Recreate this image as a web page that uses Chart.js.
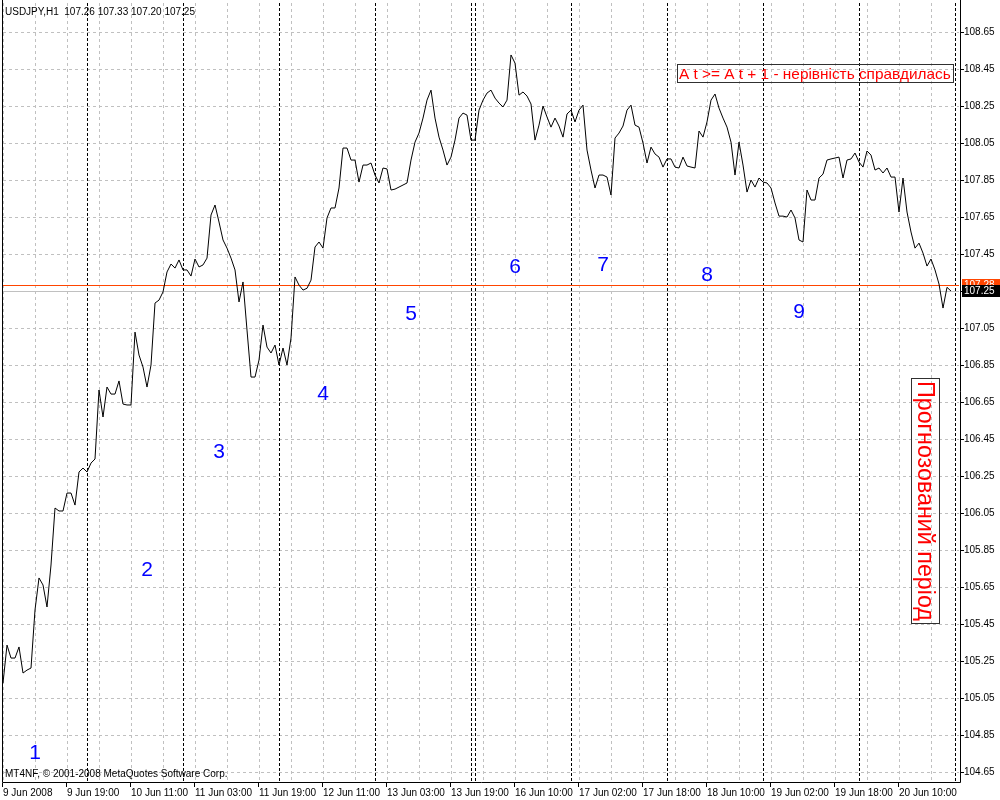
<!DOCTYPE html>
<html><head><meta charset="utf-8">
<script src="https://cdn.jsdelivr.net/npm/chart.js@4.4.1/dist/chart.umd.min.js"></script>
<style>html,body{margin:0;padding:0;background:#fff}canvas{display:block}</style>
</head><body>
<canvas id="c" width="1000" height="800"></canvas>
<script>
// ---------- data ----------
const symbolTitle = 'USDJPY,H1  107.26 107.33 107.20 107.25';
const copyright = 'MT4NF, \u00A9 2001-2008 MetaQuotes Software Corp.';

// hourly closes, one per bar (bar 0 = 9 Jun 2008 03:00)
const closes = [
105.131,105.336,105.266,105.266,105.326,105.185,105.201,105.212,105.526,105.699,
105.661,105.542,105.769,106.077,106.061,106.061,106.158,106.158,106.093,106.272,
106.293,106.272,106.320,106.342,106.715,106.569,106.731,106.693,106.693,106.764,
106.639,106.634,106.634,107.028,106.904,106.839,106.731,106.850,107.185,107.201,
107.245,107.353,107.396,107.374,107.418,107.364,107.364,107.331,107.423,107.380,
107.391,107.428,107.661,107.715,107.623,107.526,107.482,107.428,107.364,107.191,
107.299,107.039,106.785,106.785,106.877,107.066,106.947,106.915,106.958,106.850,
106.942,106.850,106.996,107.326,107.282,107.255,107.265,107.309,107.488,107.515,
107.482,107.645,107.699,107.699,107.807,108.023,108.023,107.958,107.958,107.839,
107.931,107.931,107.942,107.877,107.834,107.915,107.910,107.796,107.801,107.812,
107.823,107.834,107.958,108.055,108.104,108.185,108.282,108.336,108.185,108.082,
108.012,107.931,107.974,108.066,108.185,108.212,108.201,108.066,108.066,108.228,
108.282,108.320,108.336,108.293,108.266,108.245,108.282,108.526,108.482,108.309,
108.326,108.304,108.261,108.066,108.147,108.250,108.191,108.136,108.185,108.142,
108.082,108.207,108.228,108.164,108.228,108.255,108.012,107.904,107.807,107.877,
107.877,107.866,107.769,108.077,108.104,108.142,108.228,108.255,108.147,108.136,
108.050,107.942,108.028,107.991,107.974,107.920,107.964,107.964,107.920,107.915,
107.974,107.926,107.920,107.915,108.115,108.082,108.164,108.282,108.315,108.239,
108.185,108.136,108.055,107.877,108.055,107.931,107.785,107.850,107.812,107.861,
107.839,107.834,107.807,107.726,107.655,107.655,107.650,107.688,107.645,107.526,
107.515,107.796,107.742,107.742,107.861,107.882,107.958,107.964,107.969,107.974,
107.861,107.958,107.964,107.996,107.947,107.920,108.007,107.985,107.904,107.915,
107.888,107.915,107.866,107.866,107.677,107.861,107.677,107.569,107.482,107.509,
107.455,107.385,107.423,107.364,107.288,107.158,107.270,107.250
];

const xTickLabels = ['9 Jun 2008','9 Jun 19:00','10 Jun 11:00','11 Jun 03:00','11 Jun 19:00',
  '12 Jun 11:00','13 Jun 03:00','13 Jun 19:00','16 Jun 10:00','17 Jun 02:00','17 Jun 18:00',
  '18 Jun 10:00','19 Jun 02:00','19 Jun 18:00','20 Jun 10:00'];
const xLabelBars = [0,16,32,48,64,80,96,112,128,144,160,176,192,208,224];
const gridBars = [0,8,16,24,32,40,48,56,64,72,80,88,96,104,112,120,128,136,144,152,160,168,176,184,192,200,208,216,224,232];
const yTicks = [104.65,104.85,105.05,105.25,105.45,105.65,105.85,106.05,106.25,106.45,106.65,
  106.85,107.05,107.25,107.45,107.65,107.85,108.05,108.25,108.45,108.65];
const separatorBars = [21,45,69,93,117,118,142,166,190,214,238];
const bidPrice = 107.25;
const askPrice = 107.28;

const waveLabels = ['1','2','3','4','5','6','7','8','9'];
const waveBars   = [8,36,54,80,102,128,150,176,199];
const wavePrices = [104.720,105.712,106.350,106.661,107.096,107.350,107.360,107.306,107.104];

const noteText = 'A t >= A t + 1 - нерівність справдилась';
const noteBar = 168.5, notePrice = 108.477;
const forecastText = 'Прогнозований період';
const forecastBar = 227, forecastPrice = 106.78;

// ---------- drawing ----------
const FONT = "'Liberation Sans', Arial, sans-serif";

function fitFont(ctx, text, target, base) {
  ctx.font = base + 'px ' + FONT;
  const w = ctx.measureText(text).width;
  return base * target / w;
}

const mt4Plugin = {
  id: 'mt4',
  beforeDraw(chart) {
    const c = chart.ctx;
    c.save(); c.fillStyle = '#fff'; c.fillRect(0, 0, chart.width, chart.height); c.restore();
  },
  beforeDatasetsDraw(chart) {
    const {ctx, chartArea: a, scales: {x, y}} = chart;
    ctx.save();
    ctx.lineWidth = 1;
    ctx.strokeStyle = '#000';
    ctx.setLineDash([3, 2]);
    separatorBars.forEach(b => {
      const px = Math.round(x.getPixelForValue(b)) + 0.5;
      ctx.beginPath(); ctx.moveTo(px, a.top); ctx.lineTo(px, a.bottom); ctx.stroke();
    });
    ctx.setLineDash([]);
    [[askPrice, '#ff4500'], [bidPrice, '#c0c0c0']].forEach(([p, col]) => {
      const py = Math.round(y.getPixelForValue(p)) + 0.5;
      ctx.strokeStyle = col;
      ctx.beginPath(); ctx.moveTo(a.left, py); ctx.lineTo(a.right, py); ctx.stroke();
    });
    ctx.restore();
  },
  afterDatasetsDraw(chart) {
    const {ctx, scales: {x, y}} = chart;
    ctx.save();
    // wave numbers
    ctx.fillStyle = '#0000ff';
    ctx.font = '21px ' + FONT;
    ctx.textAlign = 'center';
    ctx.textBaseline = 'alphabetic';
    waveLabels.forEach((t, i) => {
      ctx.fillText(t, x.getPixelForValue(waveBars[i]), y.getPixelForValue(wavePrices[i]));
    });
    // inequality note
    const nx = Math.round(x.getPixelForValue(noteBar)), ny = Math.round(y.getPixelForValue(notePrice));
    const ns = fitFont(ctx, noteText, 272, 16);
    ctx.font = ns + 'px ' + FONT;
    ctx.textAlign = 'left';
    ctx.fillStyle = '#ff0000';
    ctx.fillText(noteText, nx + 2, ny + 15);
    ctx.strokeStyle = '#303030'; ctx.lineWidth = 1;
    ctx.strokeRect(nx + 0.5, ny + 0.5, 276, 18);
    // forecast period (vertical)
    const fx = Math.round(x.getPixelForValue(forecastBar)), fy = Math.round(y.getPixelForValue(forecastPrice));
    const fs = fitFont(ctx, forecastText, 240, 23);
    ctx.strokeRect(fx + 0.5, fy + 0.5, 28, 245);
    ctx.save();
    ctx.translate(fx + 7, fy + 3);
    ctx.rotate(Math.PI / 2);
    ctx.font = fs + 'px ' + FONT;
    ctx.fillStyle = '#ff0000';
    ctx.fillText(forecastText, 0, 0);
    ctx.restore();
    ctx.restore();
  },
  afterDraw(chart) {
    const {ctx, chartArea: a, scales: {x, y}} = chart;
    ctx.save();
    ctx.strokeStyle = '#000'; ctx.lineWidth = 1;
    // frame
    ctx.beginPath();
    ctx.moveTo(2.5, 0); ctx.lineTo(2.5, 782.5);
    ctx.lineTo(960.5, 782.5); ctx.lineTo(960.5, 0);
    ctx.stroke();
    // y tick marks
    yTicks.forEach(v => {
      const py = Math.round(y.getPixelForValue(v)) + 0.5;
      ctx.beginPath(); ctx.moveTo(961, py); ctx.lineTo(964, py); ctx.stroke();
    });
    // x tick marks
    xLabelBars.forEach(b => {
      const px = Math.round(x.getPixelForValue(b)) - 0.5;
      ctx.beginPath(); ctx.moveTo(px, 783); ctx.lineTo(px, 787); ctx.stroke();
    });
    // price labels on axis
    ctx.font = '10px ' + FONT;
    ctx.textAlign = 'left'; ctx.textBaseline = 'middle';
    [[askPrice, '#ff4500'], [bidPrice, '#000000']].forEach(([p, col]) => {
      const py = Math.round(y.getPixelForValue(p));
      ctx.fillStyle = col;
      ctx.fillRect(962, py - 6, 38, 12);
      ctx.fillStyle = '#fff';
      ctx.fillText(p.toFixed(2), 964, py + 0.5);
    });
    // header and copyright
    ctx.fillStyle = '#000';
    ctx.textBaseline = 'alphabetic';
    ctx.font = '10px ' + FONT;
    ctx.fillText(symbolTitle, 5, 15);
    ctx.fillText(copyright, 5, 777);
    ctx.restore();
  }
};

const noPad = s => { s.paddingTop = 0; s.paddingBottom = 0; s.paddingLeft = 0; s.paddingRight = 0; };

new Chart(document.getElementById('c').getContext('2d'), {
  type: 'line',
  data: {
    datasets: [{
      data: closes.map((c, i) => ({x: i, y: c})),
      borderColor: '#000', borderWidth: 1, pointRadius: 0, tension: 0, fill: false
    }]
  },
  options: {
    responsive: false, animation: false, events: [],
    layout: {padding: {left: 3, top: 3, right: 0, bottom: 0}},
    plugins: {legend: {display: false}, tooltip: {enabled: false}},
    scales: {
      x: {
        type: 'linear', min: 0, max: 239,
        grid: {color: '#c0c0c0', drawTicks: false, lineWidth: 1},
        border: {display: false, dash: [3, 3]},
        afterBuildTicks: s => { s.ticks = gridBars.map(v => ({value: v})); },
        afterFit: s => { s.height = 18; noPad(s); },
        ticks: {
          autoSkip: false, maxRotation: 0, minRotation: 0, align: 'start', padding: 5,
          color: '#000', font: {family: FONT, size: 10},
          callback: v => { const k = xLabelBars.indexOf(v); return k >= 0 ? xTickLabels[k] : ''; }
        }
      },
      y: {
        type: 'linear', position: 'right', min: 104.596, max: 108.807,
        grid: {color: '#c0c0c0', drawTicks: false, lineWidth: 1},
        border: {display: false, dash: [3, 3]},
        afterBuildTicks: s => { s.ticks = yTicks.map(v => ({value: v})); },
        afterFit: s => { s.width = 41; noPad(s); },
        ticks: {
          padding: 5, color: '#000', font: {family: FONT, size: 10},
          callback: v => Number(v).toFixed(2)
        }
      }
    }
  },
  plugins: [mt4Plugin]
});
</script>
</body></html>
